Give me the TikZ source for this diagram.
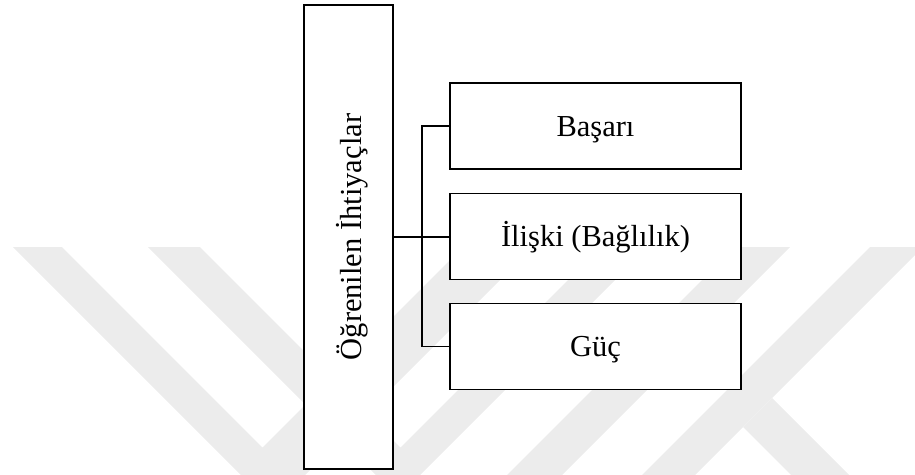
\documentclass[tikz,border=0pt]{standalone}
\usepackage{fontspec}
\setmainfont{Liberation Serif}
\definecolor{wm}{RGB}{236,236,236}
\begin{document}
\begin{tikzpicture}[x=1pt,y=-1pt,
  box/.style={draw=black,line width=1.8pt,fill=white,inner sep=0pt,
    font=\fontsize{30.5}{36}\selectfont,text height=22pt,text depth=2pt,align=center},
  link/.style={draw=black,line width=1.8pt},
  wmark/.style={fill=wm,draw=none}]
\useasboundingbox (0,0) rectangle (915,474);
% faint watermark
\begin{scope}
\clip (0,0) rectangle (915,474);
\fill[wmark] (13,247) -- (62,247) -- (262.5,447.5) -- (463,247) -- (533,247) -- (273,507) -- cycle;
\fill[wmark] (148,247) -- (200,247) -- (400.5,447.5) -- (601,247) -- (648,247) -- (398,497) -- cycle;
\fill[wmark] (735,247) -- (790,247) -- (557,480) -- (502,480) -- cycle;
\fill[wmark] (870,247) -- (923,247) -- (690,480) -- (637,480) -- cycle;
\fill[wmark] (743,427) -- (772,398) -- (854,480) -- (796,480) -- cycle;
\end{scope}
% boxes
\node[box, rotate=90, minimum width=464pt, minimum height=89pt,
      text height=28pt, text depth=2pt] (big) at (348.5,237) {Öğrenilen İhtiyaçlar};
\node[box, minimum width=291pt, minimum height=86pt] (top) at (595.5,126) {Başarı};
\node[box, minimum width=291pt, minimum height=86pt] (mid) at (595.5,236.5) {İlişki (Bağlılık)};
\node[box, minimum width=291pt, minimum height=86pt] (bot) at (595.5,346.5) {Güç};
% connectors
\coordinate (bus) at (422,237);
\draw[link] (big.south) -- (big.south -| mid.west);
\draw[link] (top.west) -| (bus) |- (bot.west);
\end{tikzpicture}
\end{document}
